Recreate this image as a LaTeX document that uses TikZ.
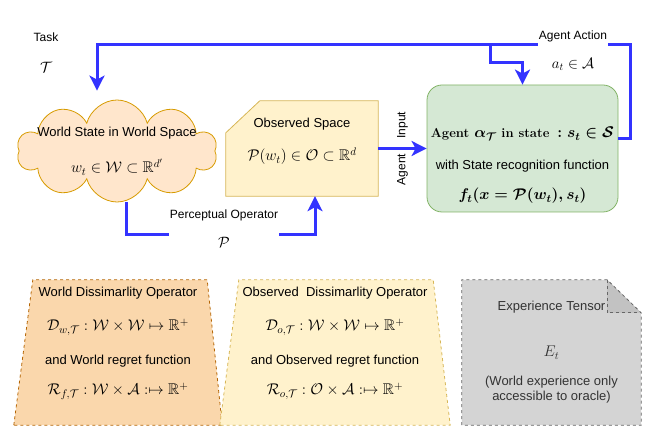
\RequirePackage{fix-cm}
\documentclass[tikz,border=0pt]{standalone}
\usepackage{amsmath}
\usepackage{amssymb}
\usepackage{fontspec}
\setsansfont{Liberation Sans}
\DeclareMathSizes{13}{15.5}{11}{8}
\DeclareMathSizes{12}{15}{10.5}{7.5}
\usetikzlibrary{arrows.meta,positioning,calc,shapes.symbols}
\definecolor{flowblue}{HTML}{3333FF}
\definecolor{cloudfill}{HTML}{FFE6CC}
\definecolor{cloudline}{HTML}{D79B00}
\definecolor{obsfill}{HTML}{FFF2CC}
\definecolor{obsline}{HTML}{D6B656}
\definecolor{agentfill}{HTML}{D5E8D4}
\definecolor{agentline}{HTML}{82B366}
\definecolor{worldfill}{HTML}{FAD7AC}
\definecolor{worldline}{HTML}{B46504}
\definecolor{notefill}{HTML}{D4D4D4}
\definecolor{notefold}{HTML}{C2C2C2}
\definecolor{noteline}{HTML}{666666}
\definecolor{notetext}{HTML}{333333}
\tikzset{
  txt/.style={font=\sffamily\fontsize{13}{15}\selectfont, align=center, inner sep=0pt},
  lbl/.style={font=\sffamily\fontsize{12}{14}\selectfont, align=center, inner sep=1pt},
  flow/.style={draw=flowblue, line width=3pt, -{Stealth[length=15pt,width=15pt,inset=4pt]}},
  frame/.style={inner sep=0pt, minimum width=#1},
  outline/.style={line width=.8pt},
  dashline/.style={outline, dash pattern=on 3pt off 3pt},
}

\begin{document}
\begin{tikzpicture}[x=1pt, y=-1pt]
    \useasboundingbox (0,0) rectangle (665,430);
    % top row
    \node[lbl] (task) at (46,53) {Task\\[17pt]$\mathcal{T}$};
    \node[cloud, cloud puffs=10, cloud ignores aspect, draw=cloudline, fill=cloudfill, outline, inner sep=0pt,
          minimum width=200pt, minimum height=102pt] (world) at (117,151) {};
    \node[txt] (worldTxt) at (world.center)
          {World State in World Space\\[19pt]$w_t \in \mathcal{W} \subset \mathbb{R}^{d'}$};

    \node[frame=152pt, minimum height=95pt] (obs) at (302,148.5) {};
    \draw[outline, draw=obsline, fill=obsfill] ([yshift=-32pt]obs.north west) -- ([xshift=34pt]obs.north west)
        -- (obs.north east) -- (obs.south east) -- (obs.south west) -- cycle;
    \node[txt] (obsTxt) at ([yshift=7pt]obs.center)
          {Observed Space\\[16pt]$\mathcal{P}(w_t) \in \mathcal{O} \subset \mathbb{R}^d$};

    \node[frame=191pt, minimum height=127pt, draw=agentline, fill=agentfill, outline, rounded corners=15pt] (agent) at (522.5,148.5) {};
    \node[txt] (agentTxt) at ([yshift=-17pt]agent.center)
          {{\rmfamily\bfseries\boldmath Agent $\alpha_{\mathcal{T}}$ in state $\,: s_t \in \mathcal{S}$}\\[17pt]
           with State recognition function\\[15pt]
           {\boldmath $f_t(x = \mathcal{P}(w_t), s_t)$}};

    % connectors
    \coordinate (actTurn) at (630,45);
    \coordinate (actCorner) at (97,45);
    \coordinate (actSplit) at (490,45);
    \coordinate (percTurn) at (126,235);
    \draw[flow, shorten >=9pt] ([yshift=10pt]agent.east) -| (actTurn) -- (actCorner) -- (actCorner |- world.north);
    \draw[flow] (actSplit) -- ++(0,18) -| (agent.north);
    \node[lbl, fill=white] (actLbl) at (573,50.5) {Agent Action\\[15pt]$a_t \in \mathcal{A}$};

    \draw[flow] (world.south -| percTurn) -- (percTurn) -| ([xshift=13pt]obs.south);
    \node[lbl, fill=white] (percLbl) at (224,229) {Perceptual Operator\\[15pt]$\mathcal{P}$};

    \draw[flow] (obs.east) -- node[lbl, rotate=90] (inLbl) {Agent\hspace{15pt}Input} (agent.west);

    % bottom row
    \node[frame=208pt, minimum height=145pt] (wdis) at (118,352.5) {};
    \draw[dashline, draw=worldline, fill=worldfill] (wdis.south west) -- ([xshift=19pt]wdis.north west)
        -- ([xshift=-15pt]wdis.north east) -- (wdis.south east) -- cycle;
    \node[txt] (wdisTxt) at ([yshift=9pt]wdis.center)
          {World Dissimarlity Operator\\[19pt]
           $\mathcal{D}_{w,\mathcal{T}} : \mathcal{W} \times \mathcal{W} \mapsto \mathbb{R}^+$\\[19pt]
           and World regret function\\[15pt]
           $\mathcal{R}_{f,\mathcal{T}} : \mathcal{W} \times \mathcal{A} :\mapsto \mathbb{R}^+$};

    \node[frame=230pt, minimum height=145pt] (odis) at (335,352.5) {};
    \draw[dashline, draw=obsline, fill=obsfill] (odis.south west) -- ([xshift=19pt]odis.north west)
        -- ([xshift=-17pt]odis.north east) -- (odis.south east) -- cycle;
    \node[txt] (odisTxt) at ([yshift=9pt]odis.center)
          {Observed~~Dissimarlity Operator\\[19pt]
           $\mathcal{D}_{o,\mathcal{T}} : \mathcal{W} \times \mathcal{W} \mapsto \mathbb{R}^+$\\[19pt]
           and Observed regret function\\[15pt]
           $\mathcal{R}_{o,\mathcal{T}} : \mathcal{O} \times \mathcal{A} :\mapsto \mathbb{R}^+$};

    \node[frame=179pt, minimum height=145pt] (exper) at (551.5,352.5) {};
    \fill[notefill] (exper.south west) -- (exper.north west) -- ([xshift=-34pt]exper.north east)
        -- ([yshift=-33pt]exper.north east) -- (exper.south east) -- cycle;
    \fill[notefold] ([xshift=-34pt]exper.north east) -- ([xshift=-34pt,yshift=-33pt]exper.north east)
        -- ([yshift=-33pt]exper.north east) -- cycle;
    \draw[dashline, draw=noteline] (exper.south west) -- (exper.north west) -- ([xshift=-34pt]exper.north east)
        -- ([yshift=-33pt]exper.north east) -- (exper.south east) -- cycle;
    \draw[dashline, draw=noteline] ([xshift=-34pt]exper.north east) -- ([xshift=-34pt,yshift=-33pt]exper.north east)
        -- ([yshift=-33pt]exper.north east);
    \node[txt, text=notetext] (experTxt) at (exper.center)
          {Experience Tensor\\[31pt]$E_t$\\[14pt](World experience only\\accessible to oracle)};
\end{tikzpicture}
\end{document}
